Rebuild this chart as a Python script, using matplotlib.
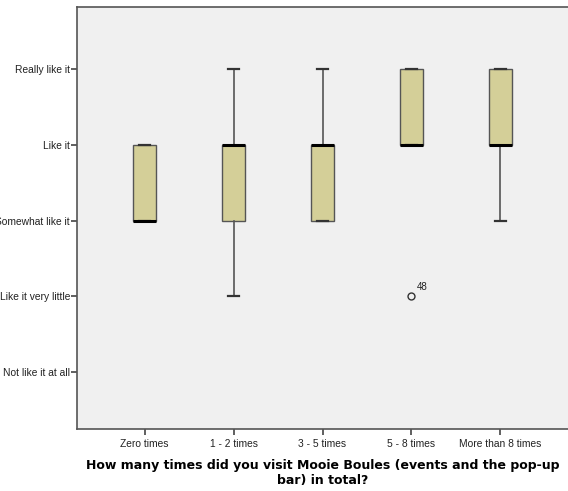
import numpy as np
import matplotlib.pyplot as plt

# Antwortkategorien (y) und Besuchsgruppen (x)
y_labels = ["Not like it at all", "Like it very little", "Somewhat like it",
            "Like it", "Really like it"]
groups = ["Zero times", "1 - 2 times", "3 - 5 times", "5 - 8 times", "More than 8 times"]

# Box-Kennwerte je Gruppe (1 = Not like it at all ... 5 = Really like it)
q1 = [3, 3, 3, 4, 4]
med = [3, 4, 4, 4, 4]
q3 = [4, 4, 4, 5, 5]
whislo = [3, 2, 3, 4, 3]
whishi = [4, 5, 5, 5, 5]
fliers = [[], [], [], [2], []]
flier_ids = [[], [], [], ["48"], []]

stats = []
for i in range(len(groups)):
    stats.append(dict(q1=q1[i], med=med[i], q3=q3[i], whislo=whislo[i],
                      whishi=whishi[i], fliers=fliers[i], label=groups[i]))

plt.rcParams['font.family'] = ['Liberation Sans', 'DejaVu Sans']

fig = plt.figure(figsize=(5.68, 4.91), dpi=100)
ax = fig.add_axes([0.1356, 0.126, 0.8644, 0.86])
ax.set_facecolor("#f0f0f0")

pos = np.arange(1, len(groups) + 1)
ax.bxp(stats, positions=pos, widths=0.26, patch_artist=True,
       boxprops=dict(facecolor="#d4cf98", edgecolor="#555555", linewidth=1),
       medianprops=dict(color="black", linewidth=2.2),
       whiskerprops=dict(color="#555555", linewidth=1.2),
       capprops=dict(color="#333333", linewidth=1.6),
       capwidths=0.13,
       flierprops=dict(marker="o", markerfacecolor="none", markeredgecolor="#333333",
                       markersize=5, markeredgewidth=1))

# Ausreisser beschriften
for i in range(len(groups)):
    for v, lab in zip(fliers[i], flier_ids[i]):
        ax.annotate(lab, (pos[i], v), xytext=(4, 5), textcoords="offset points",
                    fontsize=7, color="#222222")

ax.set_xlim(0.24, 5.76)
ax.set_ylim(0.25, 5.82)
ax.set_yticks(range(1, 6))
ax.set_yticklabels(y_labels, fontsize=7.4, color="#222222")
ax.set_xticks(pos)
ax.set_xticklabels(groups, fontsize=7.4, color="#222222")
ax.tick_params(axis="both", length=4, width=1.2, color="#444444")
ax.tick_params(axis="x", pad=3)
ax.tick_params(axis="y", pad=1)

for s in ["left", "bottom", "top"]:
    ax.spines[s].set_color("#555555")
    ax.spines[s].set_linewidth(1.2)
ax.spines["right"].set_visible(False)

ax.set_xlabel("How many times did you visit Mooie Boules (events and the pop-up\nbar) in total?",
              fontsize=9, fontweight="bold", family=["DejaVu Sans"], labelpad=7,
              linespacing=1.2)

fig.savefig("out.png", dpi=100)
